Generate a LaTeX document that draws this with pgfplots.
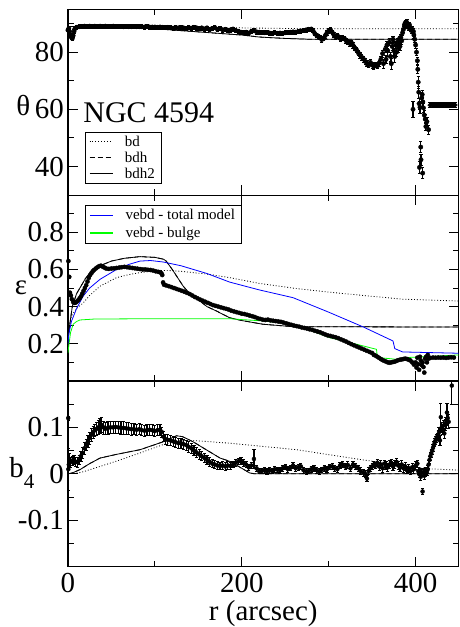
\documentclass[border=0pt]{standalone}
\usepackage{fontspec}
\setmainfont{Liberation Serif}
\usepackage{pgfplots}
\usepackage{pgfplotstable}
\pgfplotsset{compat=1.18}

\definecolor{modelblue}{RGB}{0,0,255}
\definecolor{modelgreen}{RGB}{0,255,0}

% ---------------- position angle theta (r, value, error) ----------------
\pgfplotstableread{
r v e
0 87.7 0.7
1 88.3 0.7
2 87.2 0.7
3 86.0 0.7
4 85.2 0.7
5 84.8 0.7
6 85.8 0.7
7 87.2 0.7
8 88.2 0.7
10 88.7 0.7
13 88.9 0.7
16 89.0 0.7
19 89.1 0.7
22 89.0 0.7
25 89.1 0.7
28 89.0 0.7
31 89.1 0.7
34 89.0 0.7
37 89.1 0.7
40 89.0 0.7
43 89.1 0.7
46 89.0 0.7
49 89.0 0.7
52 89.1 0.7
55 89.0 0.7
58 89.0 0.7
61 89.0 0.7
64 88.9 0.7
67 89.0 0.7
70 88.9 0.7
73 88.9 0.7
76 89.0 0.7
79 88.9 0.7
82 88.9 0.7
85 88.9 0.7
88 88.8 0.7
91 88.9 0.7
94 88.8 0.7
97 88.8 0.7
100 88.8 0.7
103 88.7 0.7
106 88.8 0.7
109 88.7 0.7
112 88.6 0.7
115 88.7 0.7
118 88.6 0.7
121 88.4 0.7
124 88.6 0.7
127 88.5 0.7
130 88.6 0.7
133 88.5 0.7
136 88.3 0.7
139 88.6 0.7
142 88.4 0.7
145 88.7 0.7
148 88.5 0.7
151 88.2 0.7
154 88.5 0.7
157 88.1 0.7
160 88.5 0.7
163 87.9 0.7
166 88.3 0.7
169 88.6 0.7
172 88.0 0.7
175 88.3 0.7
178 87.8 0.7
181 88.0 0.7
184 87.5 0.7
187 87.8 0.7
190 88.1 0.7
193 87.6 0.7
196 87.3 0.7
199 87.0 0.7
202 86.8 0.7
205 87.0 0.7
208 86.7 0.7
211 87.2 0.7
214 87.5 0.7
217 87.1 0.7
220 87.0 0.7
223 86.9 0.7
226 86.8 0.7
229 86.9 0.7
232 86.7 0.7
235 86.6 0.7
238 86.8 0.7
241 86.6 0.7
244 86.7 0.7
247 86.6 0.7
250 86.8 0.7
253 86.9 0.7
256 87.0 0.7
259 87.1 0.7
262 87.0 0.7
265 87.2 0.7
268 87.4 0.7
271 87.6 0.7
274 87.8 0.7
277 88.0 0.7
280 88.1 0.7
282 87.5 0.7
284 86.5 0.7
286 86.0 0.7
288 85.6 0.7
290 85.2 0.7
292 84.4 0.8
294 84.8 0.8
296 85.8 0.8
298 86.8 0.8
300 87.4 0.8
302 87.8 0.8
304 87.0 0.8
306 86.0 0.8
308 85.4 0.8
310 85.8 0.8
312 85.2 0.8
314 84.6 0.8
316 85.0 0.8
318 84.8 0.8
320 84.0 0.9
322 83.6 0.9
324 83.1 0.9
326 83.4 0.9
328 82.4 0.9
330 81.5 0.9
332 80.8 0.9
334 79.8 0.9
336 79.0 1.0
338 78.2 1.0
340 77.6 1.0
342 76.8 1.0
344 76.0 1.0
346 75.6 1.0
348 76.4 1.0
350 75.5 1.0
352 75.0 1.0
354 75.6 1.0
356 75.2 1.0
358 76.2 1.0
360 77.5 1.2
362 79.5 1.2
363 76.0 1.5
365 81.0 1.2
366 77.5 1.5
367 82.5 1.2
368 80.5 1.8
370 83.5 1.2
371 78.5 1.6
372 76.0 2.0
373 82.0 1.2
374 84.5 1.2
375 80.5 1.5
376 78.5 2.0
377 82.5 1.2
378 80.0 1.5
379 83.5 1.2
380 81.5 1.5
381 84.5 1.2
382 82.0 1.5
383 85.2 1.2
384 84.0 1.2
385 86.8 1.0
386 88.0 1.0
387 89.5 1.0
388 90.2 1.0
389 89.6 1.0
390 90.4 1.0
391 89.2 1.0
392 88.6 1.0
393 89.5 1.0
394 88.2 1.0
395 87.6 1.0
396 88.0 1.0
397 60.0 2.9
397.5 87.2 1.0
398 86.0 1.0
399 84.5 1.0
400 82.5 1.0
401 80.0 1.2
402 77.0 1.2
402.5 74.0 1.5
403 69.5 2.0
403.6 66.0 2.0
404 62.0 2.0
404.4 39.7 2.0
405 60.7 2.0
405.9 46.8 2.0
406.2 42.4 2.0
407 64.0 2.0
407.6 65.2 1.5
408.1 37.7 2.0
408.3 62.6 1.5
409 60.5 1.5
410 58.0 1.5
411 56.6 1.5
411.8 54.0 1.5
413 55.7 1.5
414.9 52.9 1.5
}\thetadata

% flat run of points at the outer edge
\pgfplotstableread{
r v e
416 61.5 0.8
417.5 61.4 0.8
419 61.5 0.8
420.5 61.4 0.8
422 61.5 0.8
423.5 61.4 0.8
425 61.5 0.8
426.5 61.4 0.8
428 61.5 0.8
429.5 61.4 0.8
431 61.5 0.8
432.5 61.4 0.8
434 61.5 0.8
435.5 61.4 0.8
437 61.5 0.8
438.5 61.4 0.8
440 61.5 0.8
441.5 61.4 0.8
443 61.5 0.8
444.5 61.4 0.8
446 61.5 0.8
}\thetaflat

% ---------------- ellipticity ----------------
\pgfplotstableread{
r v
0.5 0.645
1.5 0.56
2.3 0.475
3.4 0.46
4.5 0.44
6 0.425
7.5 0.42
9 0.422
10.5 0.428
12 0.435
13.5 0.445
15 0.455
16.5 0.47
18 0.485
19.5 0.5
21 0.515
22.5 0.535
24 0.555
25.5 0.57
27 0.58
28.5 0.59
30 0.597
32 0.605
34 0.612
36 0.618
38 0.62
40 0.615
42 0.61
44 0.605
47 0.603
50 0.605
53 0.606
56 0.608
59 0.61
62 0.612
65 0.614
68 0.612
71 0.61
74 0.608
77 0.606
80 0.604
83 0.602
86 0.6
89 0.6
92 0.598
95 0.597
98 0.594
101 0.59
104 0.587
106 0.585
107.5 0.58
108.5 0.57
109.5 0.53
110.5 0.518
113 0.514
116 0.51
119 0.505
122 0.5
125 0.495
128 0.49
131 0.485
134 0.48
137 0.474
140 0.468
143 0.46
146 0.452
149 0.445
152 0.438
155 0.432
158 0.426
161 0.42
164 0.414
167 0.408
170 0.404
173 0.4
176 0.396
179 0.392
182 0.388
185 0.384
188 0.378
191 0.374
194 0.37
197 0.366
200 0.362
203 0.36
206 0.356
209 0.352
212 0.348
215 0.344
218 0.338
221 0.334
224 0.33
227 0.328
230 0.33
233 0.326
236 0.324
239 0.322
242 0.32
245 0.318
248 0.314
251 0.31
254 0.306
257 0.302
260 0.298
263 0.295
266 0.292
269 0.288
272 0.285
275 0.282
278 0.278
281 0.275
284 0.27
287 0.266
290 0.262
293 0.256
296 0.25
299 0.245
302 0.242
305 0.238
308 0.235
311 0.23
314 0.224
317 0.218
320 0.212
323 0.205
326 0.198
329 0.192
332 0.186
335 0.18
338 0.174
341 0.168
344 0.162
347 0.156
350 0.15
352 0.14
354 0.136
356 0.13
358 0.124
360 0.118
362 0.112
364 0.108
366 0.104
368 0.1
370 0.098
372 0.1
374 0.102
376 0.104
378 0.108
380 0.112
382 0.114
384 0.116
386 0.118
388 0.12
390 0.118
392 0.114
394 0.11
396 0.1
398 0.088
400 0.1
401 0.072
402 0.125
403 0.09
404 0.06
405 0.13
406 0.11
407 0.085
408 0.1
409 0.075
410 0.045
411 0.12
412 0.13
413 0.1
414 0.14
415 0.12
417 0.124
420 0.126
423 0.125
426 0.126
429 0.125
432 0.126
435 0.124
438 0.126
441 0.127
444 0.126
}\epsdata

% ---------------- b4 coefficient (r, value, error) ----------------
\pgfplotstableread{
r v e
0.3 0.12 0.004
0.5 0.01 0.045
1 0.02 0.02
2 0.03 0.015
3 0.025 0.01
5 0.028 0.01
7 0.03 0.01
9 0.026 0.01
11 0.025 0.01
13 0.03 0.01
15 0.038 0.011
17 0.045 0.011
19 0.055 0.012
21 0.063 0.012
23 0.07 0.013
25 0.077 0.013
27 0.084 0.013
29 0.09 0.013
31 0.094 0.013
33 0.097 0.014
35 0.1 0.015
37 0.104 0.016
39 0.105 0.016
41 0.1 0.014
43 0.097 0.013
46 0.099 0.013
49 0.1 0.013
52 0.1 0.013
55 0.101 0.013
58 0.1 0.013
61 0.099 0.013
64 0.099 0.013
67 0.098 0.013
70 0.097 0.013
73 0.096 0.013
76 0.096 0.012
79 0.095 0.012
82 0.096 0.012
85 0.094 0.012
88 0.093 0.012
91 0.094 0.012
94 0.095 0.012
97 0.094 0.012
100 0.092 0.012
103 0.094 0.012
106 0.095 0.012
108 0.09 0.011
110 0.08 0.011
112 0.075 0.011
115 0.073 0.011
118 0.072 0.011
121 0.07 0.011
124 0.068 0.011
127 0.066 0.011
130 0.066 0.011
133 0.064 0.011
136 0.062 0.011
139 0.058 0.011
142 0.055 0.011
145 0.05 0.011
148 0.046 0.011
151 0.042 0.011
154 0.038 0.01
157 0.034 0.01
160 0.03 0.01
163 0.026 0.009
166 0.022 0.009
169 0.02 0.009
172 0.018 0.008
175 0.017 0.008
178 0.018 0.008
181 0.016 0.008
184 0.018 0.008
187 0.017 0.008
190 0.02 0.007
193 0.024 0.007
196 0.027 0.007
199 0.028 0.007
202 0.024 0.007
205 0.02 0.007
208 0.014 0.007
211 0.018 0.007
214 0.032 0.02
217 0.012 0.006
220 0.006 0.006
223 0.006 0.006
226 0.008 0.006
229 0.005 0.006
232 0.008 0.006
235 0.006 0.006
238 0.01 0.006
241 0.009 0.006
244 0.008 0.006
247 0.012 0.006
250 0.015 0.006
253 0.01 0.006
256 0.013 0.006
259 0.018 0.006
262 0.012 0.006
265 0.014 0.006
268 0.016 0.006
271 0.008 0.006
274 0.005 0.006
277 0.006 0.006
280 0.01 0.006
283 0.012 0.006
286 0.008 0.006
289 0.005 0.006
292 0.009 0.006
295 0.012 0.006
298 0.01 0.006
301 0.015 0.006
304 0.016 0.006
307 0.012 0.006
310 0.01 0.006
313 0.018 0.007
316 0.02 0.007
319 0.016 0.007
322 0.019 0.007
325 0.012 0.007
328 0.02 0.007
331 0.016 0.007
334 0.012 0.007
337 0.006 0.007
340 0.002 0.007
342 0.0 0.007
344 -0.01 0.007
346 0.006 0.007
348 0.012 0.007
350 0.016 0.007
352 0.02 0.007
354 0.018 0.007
356 0.024 0.008
358 0.016 0.008
360 0.02 0.008
362 0.012 0.008
364 0.022 0.008
366 0.018 0.008
368 0.014 0.008
370 0.02 0.008
372 0.024 0.008
374 0.016 0.008
376 0.02 0.008
378 0.026 0.008
380 0.018 0.008
382 0.014 0.008
384 0.02 0.008
386 0.012 0.008
388 0.016 0.008
390 0.008 0.008
392 0.012 0.008
394 0.006 0.008
396 0.014 0.008
398 0.01 0.008
400 0.018 0.008
402 0.022 0.008
403 0.006 0.008
404 0.0 0.008
405 0.004 0.008
406 -0.006 0.008
407 0.002 0.008
408 -0.038 0.006
409 0.004 0.008
410 -0.004 0.008
411 0.002 0.008
412 0.006 0.008
413 0.004 0.008
414 0.01 0.008
415 0.02 0.008
416 0.03 0.008
417 0.038 0.008
418 0.044 0.008
419 0.05 0.008
420 0.056 0.008
421 0.062 0.008
422 0.068 0.008
423 0.072 0.008
424 0.076 0.008
425 0.08 0.008
426 0.084 0.01
427 0.09 0.01
428 0.072 0.01
429 0.122 0.03
430 0.1 0.01
431 0.096 0.01
432 0.104 0.012
433 0.087 0.01
434 0.106 0.012
435 0.11 0.012
436 0.132 0.02
437 0.12 0.015
438 0.112 0.015
441.6 0.19 0.04
}\bfourdata

\pgfplotsset{
  panel/.style={
    scale only axis, width=391bp, height=186bp,
    xmin=0, xmax=449.4,
    xtick={0,200,400}, minor xtick={100,300},
    xticklabels={},
    tick align=inside,
    major tick length=10bp, minor tick length=6bp,
    every tick/.style={black, line width=0.9bp},
    axis line style={line width=1.2bp},
    tick label style={font=\fontsize{29bp}{30bp}\selectfont},
    yticklabel style={inner xsep=4bp},
    xticklabel style={inner ysep=6bp},
    ylabel style={rotate=-90, anchor=center, font=\fontsize{29bp}{30bp}\selectfont, inner sep=0pt},
    legend cell align=left,
    legend style={fill=white,
      inner xsep=4bp, inner ysep=2bp, row sep=0bp, column sep=10bp,
      font=\fontsize{15bp}{16bp}\selectfont, anchor=north west},
  },
  errpts/.style={only marks, mark=*, mark size=#1, black,
    mark options={solid, fill=black},
    error bars/.cd, y dir=both, y explicit,
    error bar style={line width=1.2bp, black},
    error mark options={rotate=90, mark size=1.6bp, line width=0.7bp, black},
    /pgfplots/.cd},
  model/.style={line width=0.8bp, black},
  bdline/.style={model, dash pattern=on 0.9bp off 2bp},
  bdhline/.style={model, dash pattern=on 5bp off 3bp},
}

\begin{document}
\begin{tikzpicture}
\useasboundingbox (-68bp,-60.3bp) rectangle (392bp,567.3bp);

% ---------- top panel: position angle ----------
\begin{axis}[panel, at={(0bp,372bp)}, anchor=south west,
  ymin=30, ymax=95,
  ytick={40,60,80}, yticklabels={40,60,80},
  minor ytick={30,50,70,90},
  ylabel={θ},
  ylabel style={at={(rel axis cs:-0.114,0.482)}},
  legend style={at={(rel axis cs:0.0435,0.341)}},
  legend image code/.code={\draw[#1] (0bp,0bp) -- (23bp,0bp);},
]
\addplot[bdline] coordinates {(0,88.9) (100,88.8) (150,88.7) (200,88.5) (250,88.3) (300,88.2) (449.4,88.2)};
\addlegendentry{bd}
\addplot[bdhline] coordinates {(0,89) (50,89) (100,88.2) (150,87.1) (200,86) (220,85.3) (250,84.8) (280,84.5) (449.4,84.5)};
\addlegendentry{bdh}
\addplot[model] coordinates {(0,89) (50,89) (100,88.2) (150,87.1) (200,86) (220,85.3) (250,84.8) (280,84.5) (449.4,84.5)};
\addlegendentry{bdh2}
\addplot[forget plot, errpts=2.2bp] table[x=r, y=v, y error=e] {\thetadata};
\addplot[forget plot, errpts=1.8bp] table[x=r, y=v, y error=e] {\thetaflat};
\node[anchor=base west, inner sep=0pt, font=\fontsize{30bp}{30bp}\selectfont]
  at (rel axis cs:0.039,0.389) {NGC 4594};
\end{axis}

% ---------- middle panel: ellipticity ----------
\begin{axis}[panel, at={(0bp,186bp)}, anchor=south west,
  ymin=0, ymax=1,
  ytick={0.2,0.4,0.6,0.8}, yticklabels={0.2,0.4,0.6,0.8},
  minor ytick={0.1,0.3,0.5,0.7,0.9},
  ylabel={ε},
  ylabel style={at={(rel axis cs:-0.12,0.502)}},
  legend style={at={(rel axis cs:0.0435,0.946)}, row sep=2bp},
  legend image code/.code={\draw[#1, line width=1.5bp] (0bp,0bp) -- (23bp,0bp);},
]
\addplot[forget plot, bdline] coordinates {(0,0.2) (2,0.3) (4,0.35) (10,0.39) (17.6,0.42) (25,0.46) (37,0.51) (56,0.556) (70,0.572) (83,0.583) (100,0.592) (113,0.595) (130,0.59) (160,0.575) (186,0.556) (220,0.525) (263,0.497) (300,0.478) (339.5,0.46) (385,0.44) (449.4,0.43)};
\addplot[forget plot, bdhline] coordinates {(0,0.22) (2,0.3) (5,0.4) (10,0.47) (15,0.51) (20,0.55) (25,0.58) (37,0.62) (50,0.645) (65,0.66) (83,0.669) (100,0.665) (110,0.655) (113,0.645) (120,0.6) (132.6,0.51) (140,0.47) (151.7,0.43) (160,0.4) (171,0.376) (186,0.34) (200,0.325) (224.5,0.305) (259,0.292) (449.4,0.29)};
\addplot[forget plot, model] coordinates {(0,0.22) (2,0.3) (5,0.4) (10,0.47) (15,0.51) (20,0.55) (25,0.58) (37,0.62) (50,0.645) (65,0.66) (83,0.669) (100,0.665) (110,0.655) (113,0.645) (120,0.6) (132.6,0.51) (140,0.47) (151.7,0.43) (160,0.4) (171,0.376) (186,0.34) (200,0.325) (224.5,0.305) (259,0.292) (449.4,0.29)};
\addplot[forget plot, only marks, mark=*, mark size=2.1bp, black] table[x=r, y=v] {\epsdata};
\addplot[line width=0.8bp, modelblue] coordinates {(0,0.2) (1,0.25) (4,0.32) (10,0.39) (17.6,0.457) (25,0.5) (37,0.547) (56,0.6) (70,0.627) (83,0.645) (95,0.648) (109.6,0.64) (130,0.62) (160,0.578) (186,0.532) (220,0.49) (259,0.448) (300,0.37) (340,0.29) (374,0.215) (376,0.174) (385,0.156) (449.4,0.149)};
\addlegendentry{vebd - total model}
\addplot[line width=0.8bp, modelgreen] coordinates {(0,0.15) (1,0.19) (3,0.26) (6,0.305) (10,0.32) (13.8,0.328) (30,0.333) (100,0.335) (186,0.335) (200,0.33) (224.5,0.323) (259,0.305) (280,0.27) (301,0.233) (330,0.2) (355,0.17) (356,0.126) (370,0.12) (384,0.113) (390,0.126) (420,0.132) (441,0.138) (449.4,0.14)};
\addlegendentry{vebd - bulge}
\end{axis}

% ---------- bottom panel: b4 ----------
\begin{axis}[panel, at={(0bp,0bp)}, anchor=south west,
  ymin=-0.2, ymax=0.2,
  xticklabels={0,200,400},
  ytick={-0.1,0,0.1}, yticklabels={-0.1,0,0.1},
  minor ytick={-0.15,-0.05,0.05,0.15},
  xlabel={r (arcsec)},
  xlabel style={at={(rel axis cs:0.5,-0.2866)}, anchor=base, inner sep=0pt, font=\fontsize{29bp}{30bp}\selectfont},
  ylabel={b\raisebox{-0.38em}{\fontsize{21bp}{21bp}\selectfont 4}},
  ylabel style={at={(rel axis cs:-0.118,0.505)}},
]
\addplot[bdline] coordinates {(0,0) (15,0.003) (37,0.016) (60,0.03) (83,0.045) (109.6,0.063) (129,0.072) (150,0.071) (186,0.066) (263,0.052) (339.5,0.03) (414,0.011) (449.4,0.008)};
\addplot[bdhline] coordinates {(0,0) (5,0.002) (13.8,0.009) (25,0.022) (37,0.034) (56,0.042) (83,0.052) (109.6,0.069) (125,0.082) (132,0.08) (144,0.069) (159,0.052) (175,0.034) (186,0.027) (200,0.012) (209,0.002) (215,0) (449.4,0)};
\addplot[model] coordinates {(0,0) (5,0.002) (13.8,0.009) (25,0.022) (37,0.034) (56,0.042) (83,0.052) (109.6,0.069) (125,0.082) (132,0.08) (144,0.069) (159,0.052) (175,0.034) (186,0.027) (200,0.012) (209,0.002) (215,0) (449.4,0)};
\addplot[errpts=2bp] table[x=r, y=v, y error=e] {\bfourdata};
\end{axis}
\end{tikzpicture}
\end{document}
